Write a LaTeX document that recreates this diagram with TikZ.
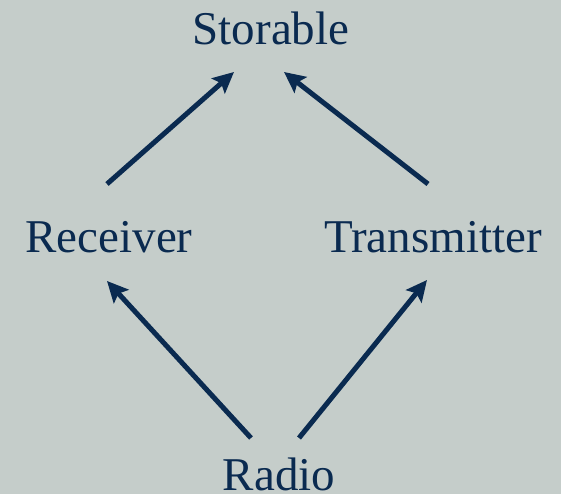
\documentclass[tikz,border=0pt]{standalone}
\usepackage{fontspec}
\setmainfont{Liberation Serif}
\usetikzlibrary{arrows.meta}
\definecolor{bgslate}{HTML}{C5CDCA}
\definecolor{navyink}{HTML}{0A2A50}

\begin{document}
\begin{tikzpicture}[x=1pt,y=1pt,
>={Stealth[length=21pt,width=20pt,inset=4pt]},
word/.style={anchor=base,inner sep=0pt,text=navyink,font=\fontsize{47}{56}\selectfont},
link/.style={->,draw=navyink,fill=navyink,line width=5pt}
]
\fill[bgslate] (0,0) rectangle (561,494);
\useasboundingbox (0,0) rectangle (561,494);
\node[word] (stor) at (271,449) {Storable};
\node[word] (recv) at (109,241) {Receiver};
\node[word] (trans) at (433,241) {Transmitter};
\node[word] (radio) at (279,3) {Radio};
\draw[link] ([shift={(-2,69)}]recv.base) -- ([shift={(-37,-27)}]stor.base);
\draw[link] ([shift={(-5,69)}]trans.base) -- ([shift={(13,-27)}]stor.base);
\draw[link] ([shift={(-28,53)}]radio.base) -- ([shift={(-2,-28)}]recv.base);
\draw[link] ([shift={(20,53)}]radio.base) -- ([shift={(-6,-27)}]trans.base);
\end{tikzpicture}
\end{document}
